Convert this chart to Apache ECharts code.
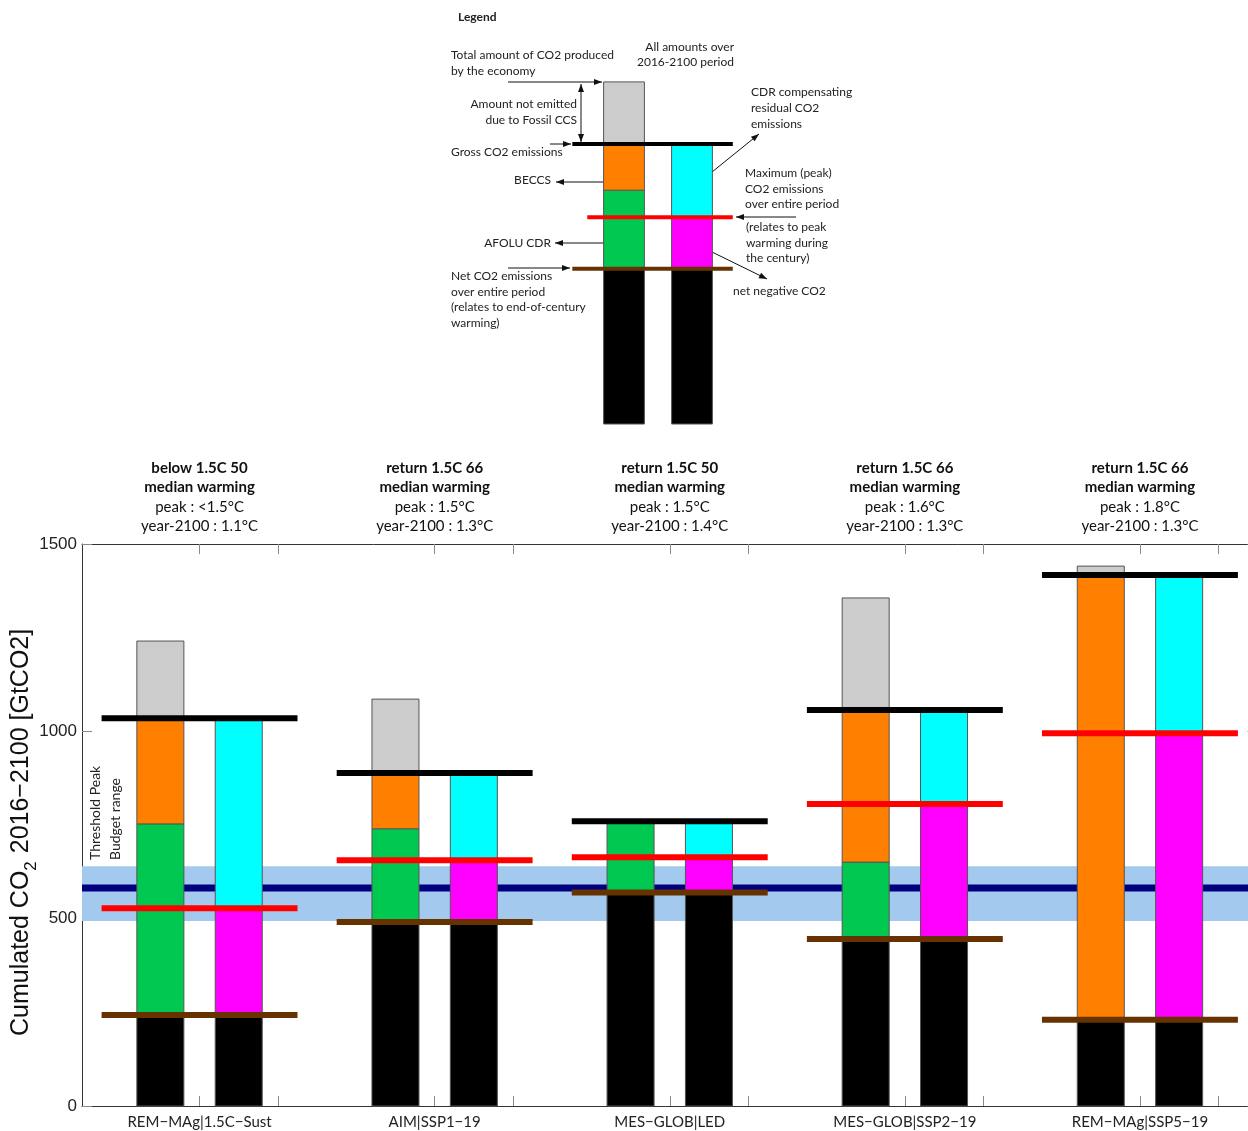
<!DOCTYPE html>
<html><head><meta charset="utf-8">
<script src="https://cdn.jsdelivr.net/npm/echarts@6/dist/echarts.min.js"></script>
<style>html,body{margin:0;padding:0;background:#fff}#c{width:1248px;height:1131px}</style>
</head><body><div id="c"></div><script>
// ---------------- DATA ----------------
const scenarios = ['REM−MAg|1.5C−Sust','AIM|SSP1−19','MES−GLOB|LED','MES−GLOB|SSP2−19','REM−MAg|SSP5−19'];
const categoryTitles = ['below 1.5C 50','return 1.5C 66','return 1.5C 50','return 1.5C 66','return 1.5C 66'];
const peakWarming = ['<1.5°C','1.5°C','1.5°C','1.6°C','1.8°C'];
const endWarming = ['1.1°C','1.3°C','1.4°C','1.3°C','1.3°C'];
const totalCO2 = [1241, 1086, 760, 1356, 1441];   // total produced by economy
const grossCO2 = [1035, 889, 760, 1057, 1417];    // gross emissions
const afoluCDR = [510, 249, 190, 205, 0];         // AFOLU CDR
const netCO2   = [243, 491, 570, 446, 230];       // net emissions
const peakCO2  = [528, 656, 664, 806, 995];       // peak cumulative emissions
const thresholdBudget = 582;
const thresholdRange = [494, 640];
const yTicks = [0, 500, 1000, 1500];
// schematic legend values
const legendTotal = 913, legendGross = 747, legendAfoluTop = 624, legendPeak = 552, legendNet = 414;

// ---------------- STYLE ----------------
const C = {gray:'#cccccc', orange:'#ff8000', green:'#00c850', cyan:'#00ffff', magenta:'#ff00ff',
  black:'#000000', red:'#ff0000', brown:'#663300', navy:'#000080', band:'#a3c9ef'};
const FONT = 'Lato, "Open Sans", sans-serif';

function barSegs(x, total, gross, afolu, net, peak) {
  const s = [];
  s.push({value:[x, 0, net], itemStyle:{color:C.black}});
  if (afolu > 0) s.push({value:[x, net, net + afolu], itemStyle:{color:C.green}});
  if (gross > net + afolu) s.push({value:[x, net + afolu, gross], itemStyle:{color:C.orange}});
  if (total > gross) s.push({value:[x, gross, total], itemStyle:{color:C.gray}});
  s.push({value:[x + 1, 0, net], itemStyle:{color:C.black}});
  s.push({value:[x + 1, net, peak], itemStyle:{color:C.magenta}});
  s.push({value:[x + 1, peak, gross], itemStyle:{color:C.cyan}});
  return s;
}
const mainBars = [], mainLines = [];
scenarios.forEach((n, i) => {
  const c = 3 * i + 1;
  mainBars.push(...barSegs(c - 0.5, totalCO2[i], grossCO2[i], afoluCDR[i], netCO2[i], peakCO2[i]));
  mainLines.push({value:[c - 1.25, c + 1.25, grossCO2[i]], itemStyle:{color:C.black}});
  mainLines.push({value:[c - 1.25, c + 1.25, peakCO2[i]], itemStyle:{color:C.red}});
  mainLines.push({value:[c - 1.25, c + 1.25, netCO2[i]], itemStyle:{color:C.brown}});
});
const legendBars = barSegs(0.5, legendTotal, legendGross, legendAfoluTop - legendNet, legendNet, legendPeak);
const legendLines = [
  {value:[-0.26, 2.1, legendGross], itemStyle:{color:C.black}},
  {value:[-0.04, 2.1, legendPeak], itemStyle:{color:C.red}},
  {value:[-0.26, 2.1, legendNet], itemStyle:{color:C.brown}}
];

function rectRender(params, api) {
  const x = api.value(0), hw = 0.3;
  const p0 = api.coord([x - hw, api.value(2)]);
  const p1 = api.coord([x + hw, api.value(1)]);
  return {type:'rect', shape:{x:p0[0], y:p0[1], width:p1[0]-p0[0], height:p1[1]-p0[1]},
    style:{fill:api.visual('color'), stroke:'#555', lineWidth:1}};
}
function lineRenderer(w) {
  return function (params, api) {
    const p0 = api.coord([api.value(0), api.value(2)]);
    const p1 = api.coord([api.value(1), api.value(2)]);
    return {type:'line', shape:{x1:p0[0], y1:p0[1], x2:p1[0], y2:p1[1]},
      style:{stroke:api.visual('color'), lineWidth:w}};
  };
}
function bandRender(params, api) {
  const p0 = api.coord([-0.5, api.value(1)]);
  const p1 = api.coord([14.5, api.value(0)]);
  return {type:'rect', shape:{x:p0[0], y:p0[1], width:p1[0]-p0[0], height:p1[1]-p0[1]}, style:{fill:C.band}};
}

// ---------------- ANNOTATIONS ----------------
function arrow(x1, y1, x2, y2, both) {
  const head = (xa, ya, xb, yb) => {
    const a = Math.atan2(yb - ya, xb - xa), L = 8, W = 3;
    const bx = xb - L * Math.cos(a), by = yb - L * Math.sin(a);
    const px = -Math.sin(a) * W, py = Math.cos(a) * W;
    return {type:'polygon', silent:true, shape:{points:[[xb, yb], [bx + px, by + py], [bx - px, by - py]]}, style:{fill:'#111'}};
  };
  const els = [{type:'line', silent:true, shape:{x1, y1, x2, y2}, style:{stroke:'#111', lineWidth:1}}, head(x1, y1, x2, y2)];
  if (both) els.push(head(x2, y2, x1, y1));
  return els;
}
function txt(t, x, y, align, extra) {
  return {type:'text', silent:true, x, y, style:Object.assign({text:t, fill:'#222', font:'12px ' + FONT,
    align:align || 'left', verticalAlign:'middle'}, extra || {})};
}
const g = [];
g.push(txt('Legend', 458, 17, 'left', {font:'bold 12px ' + FONT}));
g.push(txt('Total amount of CO2 produced', 451, 55), txt('by the economy', 451, 71));
g.push(txt('All amounts over', 734, 47, 'right'), txt('2016-2100 period', 734, 62, 'right'));
g.push(txt('Amount not emitted', 577, 104, 'right'), txt('due to Fossil CCS', 577, 120, 'right'));
g.push(txt('Gross CO2 emissions', 451, 152));
g.push(txt('BECCS', 551, 180, 'right'), txt('AFOLU CDR', 551, 243, 'right'));
g.push(txt('Net CO2 emissions', 451, 276), txt('over entire period', 451, 292),
  txt('(relates to end-of-century', 451, 307), txt('warming)', 451, 323));
g.push(txt('CDR compensating', 751, 92), txt('residual CO2', 751, 108), txt('emissions', 751, 124));
g.push(txt('Maximum (peak)', 745, 173), txt('CO2 emissions', 745, 189), txt('over entire period', 745, 204));
g.push(txt('(relates to peak', 746, 227), txt('warming during', 746, 243), txt('the century)', 746, 258));
g.push(txt('net negative CO2', 733, 291));
g.push(...arrow(508, 82, 602, 82), ...arrow(581, 84, 581, 142, true), ...arrow(550, 144, 571, 144),
  ...arrow(617, 182, 556, 182), ...arrow(617, 243, 555, 243), ...arrow(508, 268, 570, 268),
  ...arrow(712, 172, 759, 134), ...arrow(796, 217, 736, 217), ...arrow(712, 252, 767, 279));
// threshold label
g.push({type:'text', silent:true, x:95, y:860, rotation:Math.PI/2, style:{text:'Threshold Peak', fill:'#222', font:'14px ' + FONT, align:'left', verticalAlign:'middle'}});
g.push({type:'text', silent:true, x:115, y:860, rotation:Math.PI/2, style:{text:'Budget range', fill:'#222', font:'14px ' + FONT, align:'left', verticalAlign:'middle'}});
// y-axis title with subscript
(function () {
  const ctx = document.createElement('canvas').getContext('2d');
  const f1 = '25px "Liberation Sans", Arial, sans-serif', f2 = '17px "Liberation Sans", Arial, sans-serif';
  ctx.font = f1; const w1 = ctx.measureText('Cumulated CO').width;
  ctx.font = f2; const w2 = ctx.measureText('2').width;
  const y0 = 1036;
  g.push({type:'text', silent:true, x:21, y:y0, rotation:Math.PI/2, style:{text:'Cumulated CO', fill:'#111', font:f1, align:'left', verticalAlign:'middle'}});
  g.push({type:'text', silent:true, x:31, y:y0 - w1, rotation:Math.PI/2, style:{text:'2', fill:'#111', font:f2, align:'left', verticalAlign:'middle'}});
  g.push({type:'text', silent:true, x:21, y:y0 - w1 - w2 - 1, rotation:Math.PI/2, style:{text:' 2016−2100 [GtCO2]', fill:'#111', font:f1, align:'left', verticalAlign:'middle'}});
})();

// ---------------- OPTION ----------------
const tickVals = [], labelVals = [];
scenarios.forEach((n, i) => { tickVals.push(3*i + 1, 3*i + 2); labelVals.push(3*i + 1); });
const axisLineStyle = {color:'#333', width:1};
const tickStyle = {color:'#888', width:1};
const option = {
  animation:false,
  backgroundColor:'#fff',
  grid:[
    {left:82, top:544, width:1175.5, height:562, containLabel:false, outerBoundsMode:'none'},
    {left:556, top:424 - 374.7, width:204, height:374.7, containLabel:false, outerBoundsMode:'none'}
  ],
  xAxis:[
    {type:'value', gridIndex:0, position:'bottom', min:-0.5, max:14.5, splitLine:{show:false},
      axisLine:{show:true, onZero:false, lineStyle:axisLineStyle},
      axisTick:{show:true, inside:true, length:10, customValues:tickVals, lineStyle:tickStyle},
      axisLabel:{show:true, customValues:labelVals, margin:9, fontSize:15, fontFamily:FONT, color:'#222',
        formatter:v => scenarios[Math.round((v - 1) / 3)] || ''}},
    {type:'value', gridIndex:0, position:'top', min:-0.5, max:14.5, splitLine:{show:false},
      axisLine:{show:true, onZero:false, lineStyle:axisLineStyle},
      axisTick:{show:true, inside:true, length:10, customValues:tickVals, lineStyle:tickStyle},
      axisLabel:{show:true, customValues:labelVals, margin:8, fontFamily:FONT, color:'#111',
        formatter:v => { const i = Math.round((v - 1) / 3);
          return '{b|' + categoryTitles[i] + '}\n{b|median warming}\n{n|peak : ' + peakWarming[i] + '}\n{n|year-2100 : ' + endWarming[i] + '}'; },
        rich:{b:{fontWeight:'bold', fontSize:15, lineHeight:19.5, fontFamily:FONT, color:'#111'},
              n:{fontSize:15, lineHeight:19.5, fontFamily:FONT, color:'#111'}}}},
    {type:'value', gridIndex:1, min:-0.5, max:2.5, show:false}
  ],
  yAxis:[
    {type:'value', gridIndex:0, position:'left', min:0, max:1500, splitLine:{show:false},
      axisLine:{show:true, onZero:false, lineStyle:axisLineStyle},
      axisTick:{show:true, inside:true, length:10, customValues:yTicks, lineStyle:tickStyle},
      axisLabel:{show:true, customValues:yTicks, margin:5, fontSize:17, fontFamily:'"Liberation Sans", Arial, sans-serif', color:'#222',
        formatter:v => String(v)}},
    {type:'value', gridIndex:0, position:'right', min:0, max:1500, splitLine:{show:false},
      axisLine:{show:true, onZero:false, lineStyle:axisLineStyle},
      axisTick:{show:true, inside:true, length:10, customValues:yTicks, lineStyle:tickStyle},
      axisLabel:{show:false}},
    {type:'value', gridIndex:1, min:0, max:1000, show:false}
  ],
  series:[
    {type:'custom', name:'band', xAxisIndex:0, yAxisIndex:0, z:1, renderItem:bandRender,
      data:[thresholdRange], encode:{y:[0,1]}},
    {type:'custom', name:'threshold', xAxisIndex:0, yAxisIndex:0, z:2, renderItem:lineRenderer(7),
      data:[{value:[-0.5, 14.5, thresholdBudget], itemStyle:{color:C.navy}}], encode:{x:[0,1], y:2}},
    {type:'custom', name:'bars', xAxisIndex:0, yAxisIndex:0, z:3, renderItem:rectRender,
      data:mainBars, encode:{x:0, y:[1,2]}},
    {type:'custom', name:'levels', xAxisIndex:0, yAxisIndex:0, z:4, renderItem:lineRenderer(6),
      data:mainLines, encode:{x:[0,1], y:2}},
    {type:'custom', name:'legendBars', xAxisIndex:2, yAxisIndex:2, z:3, renderItem:rectRender,
      data:legendBars, encode:{x:0, y:[1,2]}},
    {type:'custom', name:'legendLines', xAxisIndex:2, yAxisIndex:2, z:4, renderItem:lineRenderer(4),
      data:legendLines, encode:{x:[0,1], y:2}}
  ],
  graphic:{elements:g}
};
const chart = echarts.init(document.getElementById('c'));
chart.setOption(option);
</script></body></html>
